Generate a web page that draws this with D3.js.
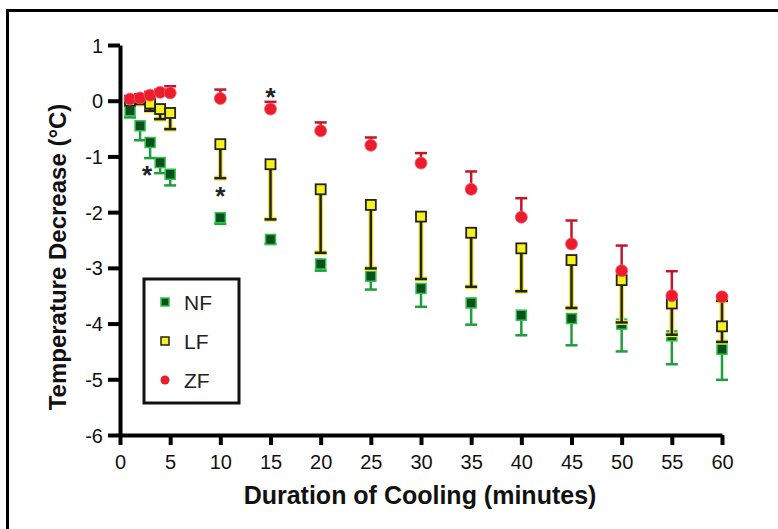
<!DOCTYPE html>
<html lang="en">
<head>
<meta charset="UTF-8">
<title>Temperature Decrease</title>
<style>
  body { margin: 0; background: #fff; }
  svg text { font-family: "Liberation Sans", Arial, sans-serif; }
</style>
</head>
<body>
<script src="https://d3js.org/d3.v7.min.js"></script>
<div id="chart"></div>
<script>
// minutes of cooling
const times = [1, 2, 3, 4, 5, 10, 15, 20, 25, 30, 35, 40, 45, 50, 55, 60];

// NF: mean and lower end of error bar
const nfMean = [-0.18, -0.45, -0.75, -1.11, -1.32, -2.10, -2.49, -2.93, -3.15, -3.37, -3.63, -3.85, -3.91, -4.01, -4.22, -4.46];
const nfLow  = [-0.30, -0.71, -1.03, -1.30, -1.52, -2.21, -2.57, -3.05, -3.39, -3.70, -4.02, -4.21, -4.39, -4.50, -4.73, -5.01];

// LF: mean, lower end (and one upper end at 60 min)
const lfMean = [0.00, 0.03, -0.05, -0.15, -0.22, -0.78, -1.14, -1.59, -1.87, -2.08, -2.37, -2.65, -2.86, -3.22, -3.64, -4.05];
const lfLow  = [-0.02, -0.06, -0.18, -0.33, -0.51, -1.39, -2.13, -2.73, -3.01, -3.20, -3.34, -3.42, -3.72, -3.98, -4.20, -4.33];
const lfHigh = [null, null, null, null, null, null, null, null, null, null, null, null, null, null, null, -3.59];

// ZF: mean and upper end of error bar
const zfMean = [0.03, 0.05, 0.10, 0.15, 0.14, 0.04, -0.15, -0.54, -0.80, -1.12, -1.59, -2.09, -2.57, -3.05, -3.50, -3.52];
const zfHigh = [0.06, 0.10, 0.16, 0.20, 0.26, 0.20, -0.02, -0.39, -0.66, -0.94, -1.27, -1.75, -2.15, -2.60, -3.06, -3.50];

// significance marks [minute, value]
const stars = [[2.7, -1.28], [10, -1.66], [15, 0.12]];

const xTicks = [0, 5, 10, 15, 20, 25, 30, 35, 40, 45, 50, 55, 60];
const yTicks = [1, 0, -1, -2, -3, -4, -5, -6];

const W = 778, H = 529;
const svg = d3.select("#chart").append("svg")
  .attr("width", W).attr("height", H);

// outer frame
svg.append("rect")
  .attr("x", 7.5).attr("y", 10.5)
  .attr("width", 900).attr("height", 700)
  .attr("fill", "none").attr("stroke", "#000").attr("stroke-width", 3);

const x = d3.scaleLinear().domain([0, 60]).range([120, 722]);
const y = d3.scaleLinear().domain([-6, 1]).range([435, 45]);

// axes
const xAxis = svg.append("g")
  .attr("transform", `translate(0,${y(-6)})`)
  .call(d3.axisBottom(x).tickValues(xTicks).tickFormat(d => String(d))
    .tickSize(10).tickSizeOuter(0).tickPadding(10));
const yAxis = svg.append("g")
  .attr("transform", `translate(${x(0)},0)`)
  .call(d3.axisLeft(y).tickValues(yTicks).tickFormat(d => String(d))
    .tickSize(12).tickSizeOuter(0).tickPadding(5));

[xAxis, yAxis].forEach(g => {
  g.select(".domain").attr("stroke", "#000").attr("stroke-width", 4);
  g.selectAll(".tick line").attr("stroke", "#000").attr("stroke-width", 4);
  g.selectAll(".tick text")
    .attr("fill", "#111")
    .style("font-size", "20px")
    .style("font-family", "'Liberation Sans', Arial, sans-serif");
});
yAxis.selectAll(".tick text").attr("dy", "0.35em");

// axis titles
svg.append("text")
  .attr("x", 420).attr("y", 504)
  .attr("text-anchor", "middle")
  .style("font-size", "25px").style("font-weight", "bold").attr("fill", "#111")
  .text("Duration of Cooling (minutes)");
svg.append("text")
  .attr("transform", `translate(66,${257}) rotate(-90)`)
  .attr("text-anchor", "middle")
  .style("font-size", "24px").style("font-weight", "bold").attr("fill", "#111")
  .text("Temperature Decrease (°C)");

const cap = 6;
function errBar(g, t, from, to, color, halo) {
  if (to === null) return;
  const lines = [
    [x(t), y(from), x(t), y(to)],
    [x(t) - cap, y(to), x(t) + cap, y(to)]
  ];
  if (halo) {
    lines.forEach(l => g.append("line")
      .attr("x1", l[0]).attr("y1", l[1]).attr("x2", l[2]).attr("y2", l[3])
      .attr("stroke", halo).attr("stroke-width", 5));
  }
  lines.forEach(l => g.append("line")
    .attr("x1", l[0]).attr("y1", l[1]).attr("x2", l[2]).attr("y2", l[3])
    .attr("stroke", color).attr("stroke-width", 2.5));
}

const gNF = svg.append("g");
const gLF = svg.append("g");
const gZF = svg.append("g");

// error bars
times.forEach((t, i) => {
  errBar(gNF, t, nfMean[i], nfLow[i], "#1f9e3a");
  errBar(gLF, t, lfMean[i], lfLow[i], "#222", "#f2ea2a");
  errBar(gLF, t, lfMean[i], lfHigh[i], "#222", "#f2ea2a");
  errBar(gZF, t, zfMean[i], zfHigh[i], "#c0182a");
});

// markers
gNF.selectAll("rect.m").data(times).join("rect")
  .attr("class", "m")
  .attr("x", t => x(t) - 5).attr("y", (t, i) => y(nfMean[i]) - 5)
  .attr("width", 10).attr("height", 10)
  .attr("fill", "#0d4f1c").attr("stroke", "#2ec24a").attr("stroke-width", 1.5);

gLF.selectAll("rect.m").data(times).join("rect")
  .attr("class", "m")
  .attr("x", t => x(t) - 5).attr("y", (t, i) => y(lfMean[i]) - 5)
  .attr("width", 10).attr("height", 10)
  .attr("fill", "#f7f21a").attr("stroke", "#222").attr("stroke-width", 1.8);

gZF.selectAll("circle.m").data(times).join("circle")
  .attr("class", "m")
  .attr("cx", t => x(t)).attr("cy", (t, i) => y(zfMean[i]))
  .attr("r", 6)
  .attr("fill", "#ec1c2c").attr("stroke", "#f06070").attr("stroke-width", 0.8);

// stars
svg.selectAll("text.star").data(stars).join("text")
  .attr("class", "star")
  .attr("x", d => x(d[0])).attr("y", d => y(d[1]) + 12)
  .attr("text-anchor", "middle")
  .style("font-size", "26px").style("font-weight", "bold").attr("fill", "#222")
  .text("*");

// legend
const lg = svg.append("g");
lg.append("rect")
  .attr("x", 144).attr("y", 279)
  .attr("width", 95).attr("height", 124)
  .attr("fill", "#fff").attr("stroke", "#111").attr("stroke-width", 3);
const legendItems = ["NF", "LF", "ZF"];
const legendY = [302, 341, 380];
legendItems.forEach((name, i) => {
  const cy = legendY[i];
  if (name === "ZF") {
    lg.append("circle").attr("cx", 165).attr("cy", cy).attr("r", 4.5).attr("fill", "#ec1c2c");
  } else {
    lg.append("rect").attr("x", 161).attr("y", cy - 4).attr("width", 8).attr("height", 8)
      .attr("fill", name === "NF" ? "#0d4f1c" : "#f7f21a")
      .attr("stroke", name === "NF" ? "#2ec24a" : "#222").attr("stroke-width", 1.5);
  }
  lg.append("text").attr("x", 184).attr("y", cy).attr("dy", "0.36em")
    .style("font-size", "21px").attr("fill", "#222").text(name);
});
</script>
</body>
</html>
